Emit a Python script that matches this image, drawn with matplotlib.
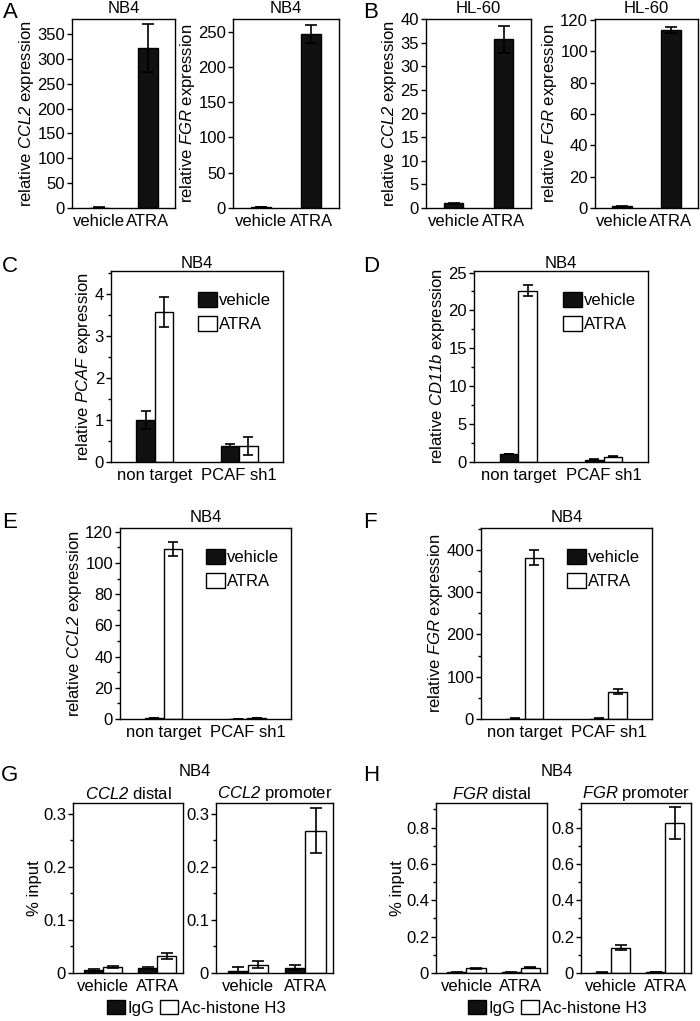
import matplotlib.pyplot as plt
from matplotlib.patches import Patch
from matplotlib.ticker import MultipleLocator, FuncFormatter

# ---- data ----
treat_labels = ['vehicle', 'ATRA']
kd_labels = ['non target', 'PCAF sh1']

# A: NB4, single series (vehicle, ATRA)
a_ccl2 = [1.0, 322]
a_ccl2_err = [0.2, 48]
a_fgr = [1.0, 247]
a_fgr_err = [0.2, 13]

# B: HL-60
b_ccl2 = [1.0, 35.7]
b_ccl2_err = [0.1, 2.8]
b_fgr = [1.0, 113.5]
b_fgr_err = [0.2, 2.0]

# C-F: groups (non target, PCAF sh1), series vehicle / ATRA
c_veh = [1.0, 0.39]
c_veh_err = [0.22, 0.03]
c_atra = [3.58, 0.38]
c_atra_err = [0.36, 0.22]

d_veh = [1.05, 0.30]
d_veh_err = [0.05, 0.03]
d_atra = [22.6, 0.70]
d_atra_err = [0.7, 0.05]

e_veh = [0.8, 0.2]
e_veh_err = [0.1, 0.05]
e_atra = [109, 0.6]
e_atra_err = [4.5, 0.1]

f_veh = [1.0, 1.0]
f_veh_err = [0.2, 0.2]
f_atra = [382, 64]
f_atra_err = [18, 6]

# G/H: ChIP, groups (vehicle, ATRA), series IgG / Ac-histone H3
g_dist_igg = [0.005, 0.009]
g_dist_igg_err = [0.002, 0.002]
g_dist_ac = [0.011, 0.032]
g_dist_ac_err = [0.002, 0.005]
g_prom_igg = [0.004, 0.010]
g_prom_igg_err = [0.007, 0.005]
g_prom_ac = [0.016, 0.268]
g_prom_ac_err = [0.006, 0.043]

h_dist_igg = [0.003, 0.003]
h_dist_igg_err = [0.001, 0.001]
h_dist_ac = [0.025, 0.030]
h_dist_ac_err = [0.003, 0.003]
h_prom_igg = [0.002, 0.005]
h_prom_igg_err = [0.001, 0.002]
h_prom_ac = [0.140, 0.825]
h_prom_ac_err = [0.012, 0.09]

# ---- style ----
plt.rcParams['font.family'] = ['Liberation Sans', 'DejaVu Sans']
plt.rcParams['font.size'] = 12
plt.rcParams['axes.titlesize'] = 12
plt.rcParams['mathtext.fontset'] = 'custom'
plt.rcParams['mathtext.rm'] = 'Liberation Sans'
plt.rcParams['mathtext.it'] = 'Liberation Sans:italic'
# \mathsf is used for gene names so that digits are italic too
plt.rcParams['mathtext.sf'] = 'Liberation Sans:italic'
plt.rcParams['axes.linewidth'] = 1.0
plt.rcParams['ytick.major.size'] = 3.5
plt.rcParams['ytick.minor.size'] = 2.2
plt.rcParams['ytick.major.width'] = 1.0
plt.rcParams['ytick.minor.width'] = 1.0

BLACK = '#111111'
W, H = 700, 1021
fig = plt.figure(figsize=(W / 100, H / 100), dpi=100)

ekw = dict(elinewidth=1.2, capthick=1.2, ecolor='black')
zero_fmt = FuncFormatter(lambda v, p: '0' if abs(v) < 1e-12 else '{:g}'.format(round(v, 6)))


def gene(name):
    return '$\\mathsf{' + name + '}$'


def box(x0, y0, x1, y1):
    return fig.add_axes([x0 / W, 1 - y1 / H, (x1 - x0) / W, (y1 - y0) / H])


def ftext(x, y, s, **kw):
    fig.text(x / W, 1 - y / H, s, ha='center', va='center', **kw)


def setup(ax, ymax, step, minor=None, xlim=(-0.55, 1.55)):
    ax.set_xlim(*xlim)
    ax.set_ylim(0, ymax)
    ax.yaxis.set_major_locator(MultipleLocator(step))
    if minor:
        ax.yaxis.set_minor_locator(MultipleLocator(minor))
    ax.yaxis.set_major_formatter(zero_fmt)
    ax.tick_params(axis='x', length=0, pad=4)
    ax.tick_params(axis='y', pad=1.5)


def single(ax, vals, errs, ymax, step, ylabel, title):
    ax.bar(range(2), vals, width=0.39, color=BLACK, edgecolor='black',
           linewidth=1, yerr=errs, capsize=4.5, error_kw=ekw)
    setup(ax, ymax, step)
    ax.set_xticks(range(2), treat_labels)
    ax.set_ylabel(ylabel, labelpad=1)
    ax.set_title(title, pad=4)


def grouped(ax, a, a_err, b, b_err, w, cats, capsize=3.5):
    x = range(len(cats))
    ax.bar([i - w / 2 for i in x], a, width=w, color=BLACK, edgecolor='black',
           linewidth=1, yerr=a_err, capsize=capsize, error_kw=ekw)
    ax.bar([i + w / 2 for i in x], b, width=w, color='white', edgecolor='black',
           linewidth=1, yerr=b_err, capsize=capsize, error_kw=ekw)
    ax.set_xticks(list(x), cats)


handles2 = [Patch(facecolor=BLACK, edgecolor='black'),
            Patch(facecolor='white', edgecolor='black')]

# ---- A ----
ax = box(72, 19, 175, 208)
single(ax, a_ccl2, a_ccl2_err, 380, 50, 'relative ' + gene('CCL2') + ' expression', 'NB4')
ax = box(233, 19, 339, 208)
single(ax, a_fgr, a_fgr_err, 268, 50, 'relative ' + gene('FGR') + ' expression', 'NB4')

# ---- B ----
ax = box(426, 19, 531, 208)
single(ax, b_ccl2, b_ccl2_err, 40, 5, 'relative ' + gene('CCL2') + ' expression', 'HL-60')
ax = box(595, 19, 698, 208)
single(ax, b_fgr, b_fgr_err, 120.5, 20, 'relative ' + gene('FGR') + ' expression', 'HL-60')

# ---- C-F ----
cdef = [
    ((111, 271, 283, 462), c_veh, c_veh_err, c_atra, c_atra_err, 4.55, 1, 0.5, 'PCAF', 2.5),
    ((474, 271, 648, 462), d_veh, d_veh_err, d_atra, d_atra_err, 25.2, 5, 2.5, 'CD11b', 2.5),
    ((120, 528, 291, 719), e_veh, e_veh_err, e_atra, e_atra_err, 122.4, 20, 10, 'CCL2', 4),
    ((481, 528, 652, 719), f_veh, f_veh_err, f_atra, f_atra_err, 452, 100, 50, 'FGR', 4),
]
for pos, a, ae, b, be, ymax, step, mnr, g, tpad in cdef:
    ax = box(*pos)
    grouped(ax, a, ae, b, be, 0.22, kd_labels)
    setup(ax, ymax, step, mnr, xlim=(-0.52, 1.52))
    ax.set_ylabel('relative ' + gene(g) + ' expression', labelpad=1)
    ax.set_title('NB4', pad=tpad)
    ax.legend(handles2, treat_labels, loc='upper right', frameon=False,
              bbox_to_anchor=(1.0, 0.95), handlelength=1.15, handleheight=1.0,
              handletextpad=0.15, labelspacing=0.45, borderaxespad=0.3)

# ---- G / H ----
gdef = [
    ((73, 803, 183, 973), g_dist_igg, g_dist_igg_err, g_dist_ac, g_dist_ac_err, 0.32, 0.1, 0.05, 'CCL2', 'distal', True),
    ((216, 803, 333, 973), g_prom_igg, g_prom_igg_err, g_prom_ac, g_prom_ac_err, 0.32, 0.1, 0.05, 'CCL2', 'promoter', False),
    ((436, 803, 547, 973), h_dist_igg, h_dist_igg_err, h_dist_ac, h_dist_ac_err, 0.935, 0.2, 0.1, 'FGR', 'distal', True),
    ((581, 803, 691, 973), h_prom_igg, h_prom_igg_err, h_prom_ac, h_prom_ac_err, 0.935, 0.2, 0.1, 'FGR', 'promoter', False),
]
for pos, a, ae, b, be, ymax, step, mnr, g, region, first in gdef:
    ax = box(*pos)
    grouped(ax, a, ae, b, be, 0.35, treat_labels, capsize=4)
    setup(ax, ymax, step, mnr, xlim=(-0.56, 1.48))
    ax.set_title(gene(g) + ' ' + region, pad=3)
    if first:
        ax.set_ylabel('% input', labelpad=1)

ftext(195, 771, 'NB4')
ftext(557, 771, 'NB4')
for cx in (196, 557):
    fig.legend(handles2, ['IgG', 'Ac-histone H3'], ncol=2, loc='center',
               bbox_to_anchor=(cx / W, 1 - 1008 / H), frameon=False,
               handlelength=1.1, handleheight=0.85, handletextpad=0.15,
               columnspacing=0.3, borderaxespad=0)

# ---- panel letters ----
for letter, x, y in [('A', 10, 12), ('B', 371, 12), ('C', 10, 266), ('D', 371, 266),
                     ('E', 10, 523), ('F', 370, 523), ('G', 10, 775), ('H', 371, 775)]:
    ftext(x, y, letter, fontsize=16)

plt.savefig('out.png', dpi=100)
